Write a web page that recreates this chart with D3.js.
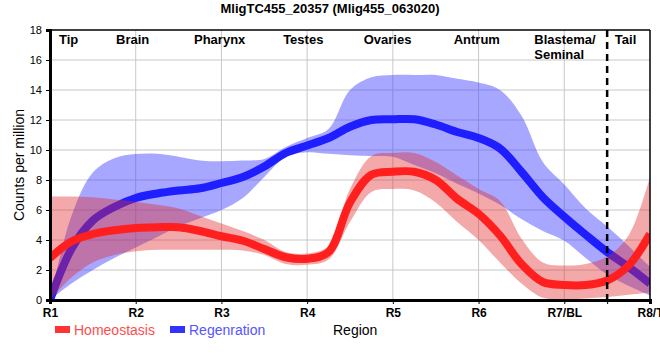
<!DOCTYPE html>
<html><head><meta charset="utf-8">
<script src="https://cdn.jsdelivr.net/npm/d3@7"></script>
<style>body{margin:0;background:#fff} text{font-family:"Liberation Sans",Arial,sans-serif}</style>
</head><body><svg id="c" width="660" height="360"></svg>
<script>
// region positions (0 = R1 ... 7 = R8/T)
const regionPos = [0,0.25,0.5,0.75,1,1.25,1.5,1.75,2,2.25,2.5,2.75,3,3.25,3.5,3.75,4,4.25,4.5,4.75,5,5.25,5.5,5.75,6,6.25,6.5,6.75,7];
const tickLabels = ["R1","R2","R3","R4","R5","R6","R7/BL","R8/T"];
const yTicks = [0,2,4,6,8,10,12,14,16,18];
const regionNames = ["Tip","Brain","Pharynx","Testes","Ovaries","Antrum","Blastema/|Seminal","Tail"];
const regionNamePos = [0.105,0.77,1.68,2.72,3.66,4.71,5.65,6.59];
const boundaryPos = 6.5;

const homeoMean  = [2.8,3.9,4.4,4.65,4.8,4.85,4.85,4.6,4.25,3.95,3.4,2.85,2.75,3.2,6.5,8.35,8.55,8.55,8.0,6.75,5.75,4.3,2.4,1.2,1.0,1.0,1.3,2.3,4.4];
const homeoUpper = [6.9,6.9,6.85,6.7,6.55,6.35,6.1,5.6,5.1,4.6,4.0,3.2,3.1,3.6,7.4,9.6,9.8,9.8,9.2,8.3,7.4,6.6,4.1,2.5,2.3,2.4,2.9,4.3,8.2];
const homeoLower = [0.0,1.5,2.5,3.0,3.25,3.35,3.35,3.35,3.35,3.3,3.0,2.4,2.35,2.7,5.2,7.2,7.4,7.3,6.5,5.2,4.0,2.5,1.1,0.15,0.05,0.1,0.2,0.35,0.5];

const regenMean  = [0.0,3.4,5.3,6.2,6.8,7.1,7.3,7.45,7.8,8.2,8.9,9.8,10.3,10.8,11.55,12.0,12.05,12.05,11.7,11.2,10.8,10.1,8.55,6.85,5.55,4.35,3.2,2.2,1.1];
const regenUpper = [0.0,5.6,8.5,9.45,9.73,9.75,9.55,9.3,9.25,9.3,9.4,10.2,10.8,11.4,14.0,14.85,15.0,15.0,15.0,14.75,14.5,14.0,12.3,9.2,7.7,6.1,4.9,3.6,2.2];
const regenLower = [0.0,1.1,2.0,2.8,3.5,4.2,4.9,5.45,6.0,6.8,8.2,9.55,9.85,9.75,9.65,9.6,9.55,9.0,8.45,7.75,7.1,6.35,5.4,4.6,3.95,2.8,1.7,0.95,0.3];

const W=660,H=360, L=50,R=650,T=30,B=300;
const svg=d3.select("#c");
const x=d3.scaleLinear().domain([0,7]).range([L,R]);
const y=d3.scaleLinear().domain([0,18]).range([B,T]);

svg.append("defs").append("clipPath").attr("id","clip").append("rect")
  .attr("x",L).attr("y",T).attr("width",R-L).attr("height",B-T);

// grid
const g=svg.append("g");
g.selectAll(".gy").data(yTicks.filter(d=>d>0&&d<18)).enter().append("line")
  .attr("x1",L).attr("x2",R).attr("y1",d=>y(d)).attr("y2",d=>y(d))
  .attr("stroke","#c8c8c8").attr("stroke-width",1);
g.selectAll(".gx").data(d3.range(1,7)).enter().append("line")
  .attr("x1",d=>x(d)).attr("x2",d=>x(d)).attr("y1",T).attr("y2",B)
  .attr("stroke","#c8c8c8").attr("stroke-width",1);

const curve=d3.curveCatmullRom.alpha(0.5);
function series(mean,upper,lower){return regionPos.map((p,i)=>({p,m:mean[i],u:upper[i],l:lower[i]}));}
const homeo=series(homeoMean,homeoUpper,homeoLower);
const regen=series(regenMean,regenUpper,regenLower);
const area=d3.area().x(d=>x(d.p)).y0(d=>y(d.l)).y1(d=>y(d.u)).curve(curve);
const line=d3.line().x(d=>x(d.p)).y(d=>y(d.m)).curve(curve);

const plot=svg.append("g").attr("clip-path","url(#clip)");
plot.append("path").datum(regen).attr("d",area).attr("fill","rgb(60,60,255)").attr("fill-opacity",0.45);
plot.append("path").datum(regen).attr("d",line).attr("fill","none").attr("stroke","#1e1eff").attr("stroke-width",8);
plot.append("path").datum(homeo).attr("d",area).attr("fill","rgb(225,40,40)").attr("fill-opacity",0.4);
plot.append("path").datum(homeo).attr("d",line).attr("fill","none").attr("stroke","#ff1f1f").attr("stroke-width",8);

// dashed boundary
svg.append("line").attr("x1",x(boundaryPos)).attr("x2",x(boundaryPos)).attr("y1",T).attr("y2",B)
  .attr("stroke","#000").attr("stroke-width",2.5).attr("stroke-dasharray","7,5");

// frame
svg.append("line").attr("x1",L).attr("x2",R).attr("y1",T).attr("y2",T).attr("stroke","#000").attr("stroke-width",1.5);
svg.append("line").attr("x1",R).attr("x2",R).attr("y1",T).attr("y2",B).attr("stroke","#000").attr("stroke-width",1.5);

// y axis
const ya=svg.append("g").attr("transform",`translate(${L},0)`)
  .call(d3.axisLeft(y).tickValues(yTicks).tickSize(4).tickFormat(d3.format("d")));
ya.select(".domain").attr("stroke-width",3);
ya.selectAll("text").attr("font-size",11).attr("fill","#000").attr("font-family","Liberation Sans, Arial").attr("dx",-1);

// x axis
const xa=svg.append("g").attr("transform",`translate(0,${B})`)
  .call(d3.axisBottom(x).tickValues([0,1,2,3,4,5,6,boundaryPos,7]).tickSize(4)
  .tickFormat(d=>Number.isInteger(d)?tickLabels[d]:""));
xa.select(".domain").attr("stroke-width",3);
xa.selectAll("text").attr("font-size",12).attr("font-weight","bold").attr("fill","#000")
  .attr("font-family","Liberation Sans, Arial").attr("dy","0.85em");

// region names
const rn=svg.append("g");
regionNames.forEach((n,i)=>{
  const parts=n.split("|");
  const t=rn.append("text").attr("x",x(regionNamePos[i])).attr("y",44)
    .attr("font-size",13).attr("font-weight","bold").attr("fill","#000");
  parts.forEach((p,j)=>t.append("tspan").attr("x",x(regionNamePos[i])).attr("dy",j?15:0).text(p));
});

// title
svg.append("text").attr("x",330).attr("y",13).attr("text-anchor","middle")
  .attr("font-size",13).attr("font-weight","bold").text("MligTC455_20357 (Mlig455_063020)");

// y label
svg.append("text").attr("transform","translate(24,165) rotate(-90)").attr("text-anchor","middle")
  .attr("font-size",14).text("Counts per million");

// x label
svg.append("text").attr("x",333).attr("y",335).attr("font-size",14).text("Region");

// legend
const legend=[{name:"Homeostasis",fill:"#ff3333",text:"#ff4d4d",x:55},{name:"Regenration",fill:"#3333ff",text:"#5555ff",x:170}];
legend.forEach(d=>{
  svg.append("rect").attr("x",d.x).attr("y",326).attr("width",15).attr("height",7).attr("fill",d.fill);
  svg.append("text").attr("x",d.x+19).attr("y",335).attr("font-size",14).attr("fill",d.text).text(d.name);
});
</script></body></html>
